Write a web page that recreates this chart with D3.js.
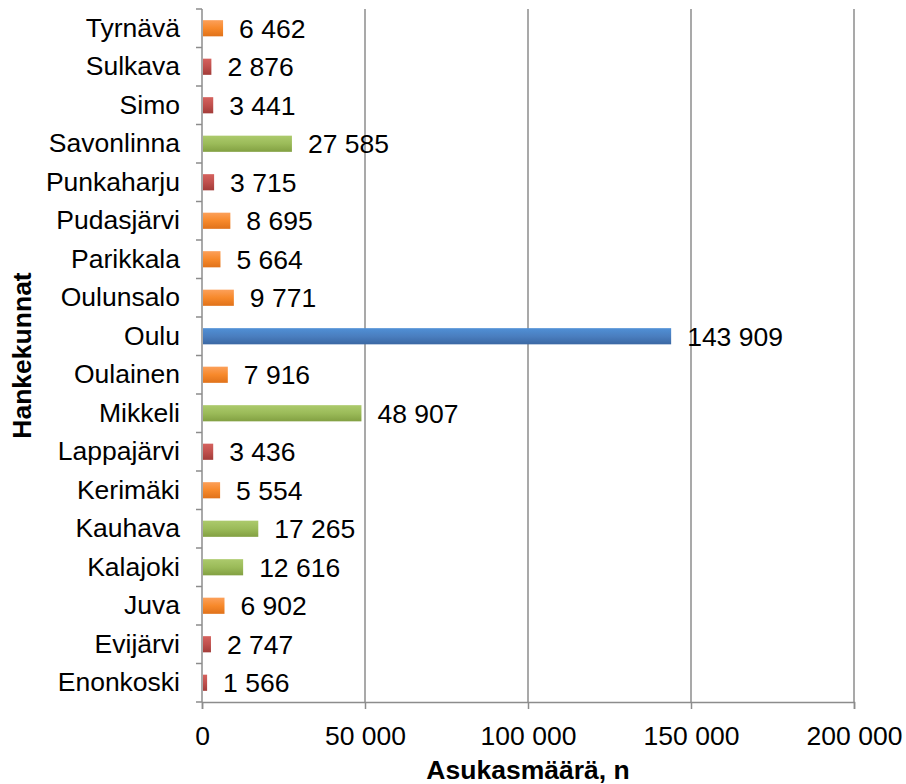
<!DOCTYPE html>
<html><head><meta charset="utf-8">
<script src="https://cdn.jsdelivr.net/npm/d3@7"></script>
<style>body{margin:0;background:#fff}svg{display:block}text{font-family:"Liberation Sans",Arial,sans-serif}</style>
</head><body>
<svg id="c" width="906" height="784"></svg>
<script>
const categories = ["Tyrnävä","Sulkava","Simo","Savonlinna","Punkaharju","Pudasjärvi","Parikkala","Oulunsalo","Oulu","Oulainen","Mikkeli","Lappajärvi","Kerimäki","Kauhava","Kalajoki","Juva","Evijärvi","Enonkoski"];
const values = [6462,2876,3441,27585,3715,8695,5664,9771,143909,7916,48907,3436,5554,17265,12616,6902,2747,1566];
const groups = ["orange","red","red","green","red","orange","orange","orange","blue","orange","green","red","orange","green","green","orange","red","red"];
const xTicks = [0,50000,100000,150000,200000];
const xTitle = "Asukasmäärä, n";
const yTitle = "Hankekunnat";

const colors = {
  orange:["#fca05a","#f7892b","#e0721a"],
  red:["#d5625e","#c0504d","#a23c39"],
  green:["#acca6c","#9bbb59","#82a042"],
  blue:["#5090d6","#4a7ebf","#3b68a3"]
};

const FS = 26.5;
const svg = d3.select("#c");
const L=202, R=854, T=9, B=702;
const x = d3.scaleLinear().domain([0,200000]).range([L,R]);
const y = d3.scaleBand().domain(categories).range([T,B]).paddingInner(0.58).paddingOuter(0.29);
const yb = d3.scaleBand().domain(categories).range([T,B]);
const fmt = d=>d3.format(",")(d).replace(/,/g," ");

const defs = svg.append("defs");
Object.entries(colors).forEach(([k,c])=>{
  const g = defs.append("linearGradient").attr("id","g_"+k).attr("x1",0).attr("y1",0).attr("x2",0).attr("y2",1);
  g.append("stop").attr("offset","0%").attr("stop-color",c[0]);
  g.append("stop").attr("offset","50%").attr("stop-color",c[1]);
  g.append("stop").attr("offset","100%").attr("stop-color",c[2]);
});

// gridlines
svg.append("g").selectAll("line").data(xTicks.slice(1)).join("line")
  .attr("x1",d=>x(d)).attr("x2",d=>x(d)).attr("y1",T).attr("y2",B)
  .attr("stroke","#8c8c8c").attr("stroke-width",1.5);

// x axis
const xa = svg.append("g").attr("transform",`translate(0,${B})`)
  .call(d3.axisBottom(x).tickValues(xTicks).tickSize(7).tickPadding(20).tickFormat(fmt));
xa.select(".domain").attr("stroke","#8c8c8c").attr("stroke-width",1.5);
xa.selectAll(".tick line").attr("stroke","#8c8c8c").attr("stroke-width",1.5);
xa.selectAll("text").attr("font-size",FS).attr("fill","#000").attr("dy","0.6em");

// y axis
const ya = svg.append("g").attr("transform",`translate(${L},0)`)
  .call(d3.axisLeft(y).tickSize(0).tickPadding(22));
ya.select(".domain").attr("stroke","#8c8c8c").attr("stroke-width",1.5).attr("d",`M0,${T}V${B}`);
ya.selectAll("text").attr("font-size",FS).attr("fill","#000");
svg.append("g").selectAll("line").data(categories.concat(["__end"])).join("line")
  .attr("x1",L-6).attr("x2",L)
  .attr("y1",(d,i)=>T+i*yb.step()).attr("y2",(d,i)=>T+i*yb.step())
  .attr("stroke","#8c8c8c").attr("stroke-width",1.5);

// bars
const data = categories.map((c,i)=>({c,v:values[i],g:groups[i]}));
svg.append("g").selectAll("rect").data(data).join("rect")
  .attr("x",x(0)+1).attr("y",d=>y(d.c)).attr("height",y.bandwidth())
  .attr("width",d=>x(d.v)-x(0)-1).attr("fill",d=>`url(#g_${d.g})`);

// labels
svg.append("g").selectAll("text").data(data).join("text")
  .attr("x",d=>x(d.v)+16).attr("y",d=>y(d.c)+y.bandwidth()/2).attr("dy","0.36em")
  .attr("font-size",FS).attr("fill","#000")
  .text(d=>fmt(d.v));

// titles
svg.append("text").attr("x",x(100000)).attr("y",779).attr("text-anchor","middle")
  .attr("font-size",FS).attr("font-weight","bold").text(xTitle);
svg.append("text").attr("transform",`translate(31,${(T+B)/2}) rotate(-90)`).attr("text-anchor","middle")
  .attr("font-size",FS).attr("font-weight","bold").text(yTitle);
</script>
</body></html>
